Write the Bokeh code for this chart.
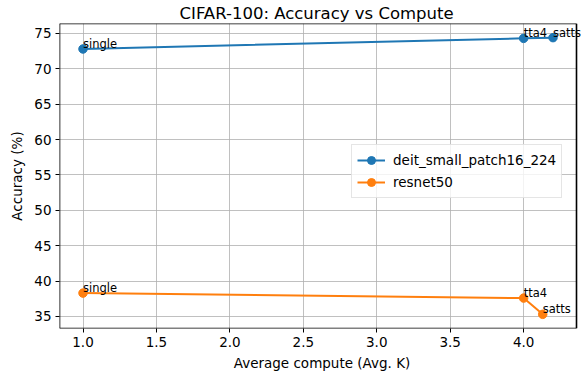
from bokeh.plotting import figure
from bokeh.embed import file_html
from bokeh.resources import INLINE
from bokeh.models import Range1d, FixedTicker, Legend, PrintfTickFormatter, LabelSet, ColumnDataSource, BoxAnnotation
from bokeh.core.properties import value

# Data
compute_deit = [1.0, 4.0, 4.2]
acc_deit = [72.8, 74.3, 74.4]
labels_deit = ["single", "tta4", "satts"]

compute_resnet = [1.0, 4.0, 4.13]
acc_resnet = [38.3, 37.6, 35.3]
labels_resnet = ["single", "tta4", "satts"]

x_ticks = [1.0, 1.5, 2.0, 2.5, 3.0, 3.5, 4.0]
y_ticks = [35, 40, 45, 50, 55, 60, 65, 70, 75]

FONT = "DejaVu Sans"

X0, X1 = 0.84, 4.36
Y0, Y1 = 33.3, 76.4
AX_W = 517          # visible axes width (px)
EXTRA = 8           # room to the right of the right spine for overflowing labels
XE = X1 + EXTRA * (X1 - X0) / AX_W

p = figure(frame_width=AX_W + EXTRA, frame_height=305, output_backend="svg", toolbar_location=None,
           x_range=Range1d(X0, XE), y_range=Range1d(Y0, Y1),
           min_border_left=59, min_border_right=0, min_border_top=0, min_border_bottom=10)

p.title.text = "CIFAR-100: Accuracy vs Compute"
p.title.align = "left"
p.title.offset = 120
p.title.text_font = FONT
p.title.text_font_size = "16.5px"
p.title.text_font_style = "normal"
p.title.text_color = "black"
p.title.standoff = 2

p.outline_line_color = None
p.background_fill_color = "white"
p.border_fill_color = "white"

for ax in (p.xaxis[0], p.yaxis[0]):
    ax.axis_line_color = None
    ax.major_tick_line_color = "black"
    ax.major_tick_out = 4
    ax.major_tick_in = 0
    ax.minor_tick_line_color = None
    ax.major_label_text_font = FONT
    ax.major_label_text_font_size = "13.5px"
    ax.major_label_text_color = "black"
    ax.axis_label_text_font = FONT
    ax.axis_label_text_font_size = "13.5px"
    ax.axis_label_text_font_style = "normal"
    ax.axis_label_text_color = "black"

p.xaxis.ticker = FixedTicker(ticks=x_ticks)
p.yaxis.ticker = FixedTicker(ticks=y_ticks)
p.xaxis.formatter = PrintfTickFormatter(format="%.1f")
p.xaxis.axis_label = "Average compute (Avg. K)"
p.yaxis.axis_label = "Accuracy (%)"
p.xaxis.major_label_standoff = 4
p.yaxis.major_label_standoff = 4
p.xaxis.axis_label_standoff = 5
p.yaxis.axis_label_standoff = 6

p.xgrid.grid_line_color = "#b0b0b0"
p.ygrid.grid_line_color = "#b0b0b0"
p.xgrid.grid_line_width = 0.8
p.ygrid.grid_line_width = 0.8

# white strip to the right of the right spine (hides grid overflow)
p.add_layout(BoxAnnotation(left=X1, right=XE, fill_color="white", fill_alpha=1.0,
                           line_color=None, level="underlay"))

# spines
p.segment(x0=[X0, X1, X0, X0], y0=[Y0, Y0, Y0, Y1], x1=[X0, X1, X1, X1], y1=[Y1, Y1, Y0, Y1],
          line_color="black", line_width=1.6)

c1 = "#1f77b4"
c2 = "#ff7f0e"

l1 = p.line(compute_deit, acc_deit, line_color=c1, line_width=2)
s1 = p.scatter(compute_deit, acc_deit, size=8.5, fill_color=c1, line_color=c1)
l2 = p.line(compute_resnet, acc_resnet, line_color=c2, line_width=2)
s2 = p.scatter(compute_resnet, acc_resnet, size=8.5, fill_color=c2, line_color=c2)

for xs, ys, ts in ((compute_deit, acc_deit, labels_deit), (compute_resnet, acc_resnet, labels_resnet)):
    src = ColumnDataSource(dict(x=xs, y=ys, t=ts))
    ls = LabelSet(x="x", y="y", text="t", source=src, text_font=value(FONT),
                  text_font_size=value("11.5px"), text_color="black",
                  text_baseline="alphabetic", y_offset=1)
    p.add_layout(ls)

legend = Legend(items=[("deit_small_patch16_224", [l1, s1]), ("resnet50", [l2, s2])],
                location=(292, 130))
legend.label_text_font = FONT
legend.label_text_font_size = "13.5px"
legend.label_text_color = "black"
legend.border_line_color = "#cccccc"
legend.border_line_width = 1
legend.background_fill_alpha = 0.8
legend.glyph_width = 28
legend.spacing = 2
legend.padding = 5
legend.margin = 0
legend.label_standoff = 8
p.add_layout(legend, "center")

open("out.html", "w").write(file_html(p, INLINE))
